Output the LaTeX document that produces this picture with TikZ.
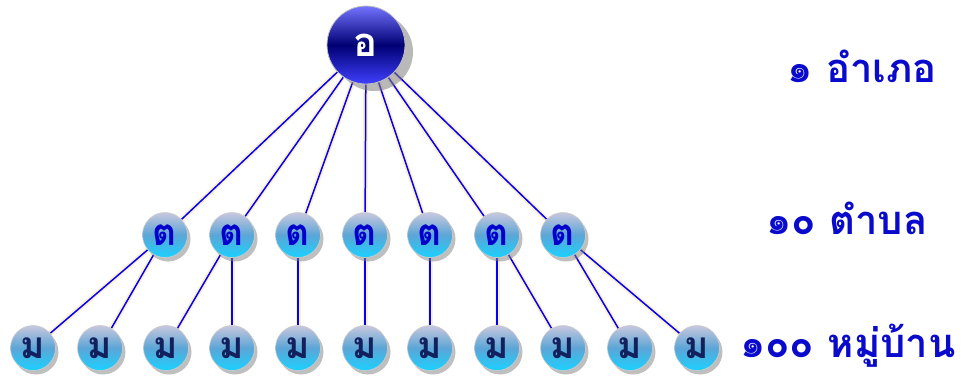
\documentclass[tikz,border=0pt]{standalone}
\usepackage{fontspec}
\newfontfamily\thaifont[Script=Thai]{Loma}
\usetikzlibrary{shadows,backgrounds}
\definecolor{glow}{HTML}{FFF0CC}
\definecolor{labelblue}{HTML}{0A0ACC}
\definecolor{navy}{HTML}{12215E}

\begin{document}
\begin{tikzpicture}[
       x=1pt, y=-1pt,
       link/.style={
         draw=blue,
         line width=1.5pt,
         preaction={draw=glow, line width=5pt}
       },
       amphoe/.style={
         circle,
         draw=gray!50,
         line width=0.8pt,
         minimum size=78pt,
         inner sep=0pt,
         top color=blue!55!white,
         bottom color=blue!75!white,
         middle color=blue!45!black,
         drop shadow={shadow xshift=8pt, shadow yshift=-7pt, opacity=0.55},
         text=white,
         font=\thaifont\bfseries\fontsize{40}{40}\selectfont
       },
       ball/.style={
         circle,
         draw=gray!40,
         line width=0.6pt,
         minimum size=45pt,
         inner sep=0pt,
         top color=blue!25!gray!35!white,
         bottom color=cyan!80!blue!90!white,
         middle color=blue!40!cyan!60!gray!80!white,
         drop shadow={shadow xshift=3pt, shadow yshift=-4pt, opacity=0.5},
         font=\thaifont\bfseries\fontsize{37}{37}\selectfont
       },
       tambon/.style={ball, text=blue!80!black},
       muban/.style={ball, text=navy},
       caption/.style={
         text=labelblue,
         font=\thaifont\bfseries\fontsize{40}{40}\selectfont
       }
     ]

       \useasboundingbox (0,0) rectangle (964,376);

       \node (a) at (366,45) [amphoe]{อ};

       \node (t1) at (165,235) [tambon]{ต};
       \node (t2) at (232,235) [tambon]{ต};
       \node (t3) at (298,235) [tambon]{ต};
       \node (t4) at (365,235) [tambon]{ต};
       \node (t5) at (430,235) [tambon]{ต};
       \node (t6) at (497,235) [tambon]{ต};
       \node (t7) at (563,235) [tambon]{ต};

       \node (m1) at (33,348) [muban]{ม};
       \node (m2) at (100,348) [muban]{ม};
       \node (m3) at (166,348) [muban]{ม};
       \node (m4) at (232,348) [muban]{ม};
       \node (m5) at (298,348) [muban]{ม};
       \node (m6) at (365,348) [muban]{ม};
       \node (m7) at (430,348) [muban]{ม};
       \node (m8) at (497,348) [muban]{ม};
       \node (m9) at (563,348) [muban]{ม};
       \node (m10) at (630,348) [muban]{ม};
       \node (m11) at (697,348) [muban]{ม};

       \begin{pgfonlayer}{background}
       \draw [link] (a) -- (t1);
       \draw [link] (a) -- (t2);
       \draw [link] (a) -- (t3);
       \draw [link] (a) -- (t4);
       \draw [link] (a) -- (t5);
       \draw [link] (a) -- (t6);
       \draw [link] (a) -- (t7);

       \draw [link] (t1) -- (m1);
       \draw [link] (t1) -- (m2);
       \draw [link] (t2) -- (m3);
       \draw [link] (t2) -- (m4);
       \draw [link] (t3) -- (m5);
       \draw [link] (t4) -- (m6);
       \draw [link] (t5) -- (m7);
       \draw [link] (t6) -- (m8);
       \draw [link] (t6) -- (m9);
       \draw [link] (t7) -- (m10);
       \draw [link] (t7) -- (m11);
       \end{pgfonlayer}

       \node (l1) at (862,66) [caption]{๑ อำเภอ};
       \node (l2) at (847,218) [caption]{๑๐ ตำบล};
       \node (l3) at (848,346) [caption]{๑๐๐ หมู่บ้าน};

\end{tikzpicture}
\end{document}
